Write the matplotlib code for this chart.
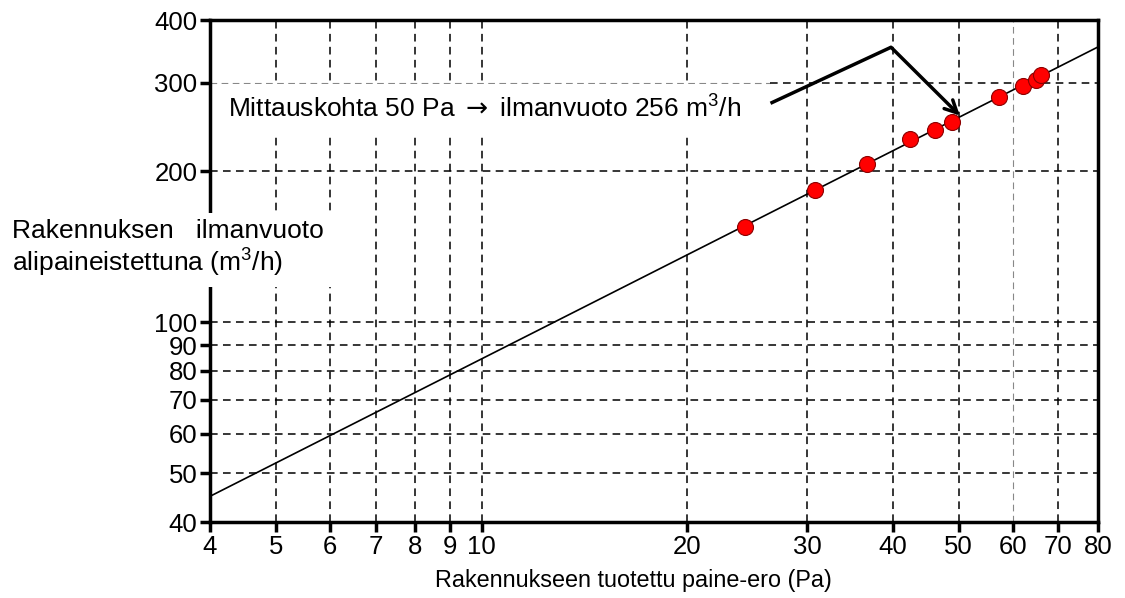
import numpy as np
import matplotlib.pyplot as plt
from matplotlib.ticker import FixedLocator, FixedFormatter, NullLocator

plt.rcParams['font.family'] = ['Liberation Sans', 'DejaVu Sans']
plt.rcParams['mathtext.fontset'] = 'custom'
plt.rcParams['mathtext.rm'] = 'Liberation Sans'
plt.rcParams['mathtext.it'] = 'Liberation Sans'
plt.rcParams['mathtext.sf'] = 'DejaVu Sans'

# measured points: pressure difference (Pa) and leakage flow (m3/h)
pressure = [24.3, 30.8, 36.7, 42.4, 46.2, 48.9, 57.2, 62.2, 64.9, 66.0]
flow = [155, 183, 207, 232, 242, 251, 281, 296, 304, 311]

x_ticks = [4, 5, 6, 7, 8, 9, 10, 20, 30, 40, 50, 60, 70, 80]
y_ticks = [40, 50, 60, 70, 80, 90, 100, 200, 300, 400]

# power-law fit  q = C * dp^n  (straight line in log-log)
p = np.polyfit(np.log10(pressure), np.log10(flow), 1)
x_fit = np.array([4, 80])
y_fit = 10 ** np.polyval(p, np.log10(x_fit))

fig = plt.figure(figsize=(11.25, 5.98), dpi=100)
ax = fig.add_axes([210 / 1125, 1 - 522 / 598, 888 / 1125, 502 / 598])
ax.set_xscale('log')
ax.set_yscale('log')
ax.set_xlim(4, 80)
ax.set_ylim(40, 400)

# dashed grid
for xv in x_ticks[1:-1]:
    if xv == 60:
        ax.axvline(xv, color='#888888', lw=0.8, dashes=(6, 4), zorder=1)
    else:
        ax.axvline(xv, color='black', lw=1.1, dashes=(5, 3.5), zorder=1)
for yv in y_ticks[1:-1]:
    if yv == 300:
        ax.plot([4, 26.5], [yv, yv], color='#888888', lw=0.8, dashes=(6, 4), zorder=1)
        ax.plot([26.5, 80], [yv, yv], color='black', lw=1.1, dashes=(5, 3.5), zorder=1)
    else:
        ax.axhline(yv, color='black', lw=1.1, dashes=(5, 3.5), zorder=1)

ax.plot(x_fit, y_fit, color='black', lw=1.2, zorder=3)
ax.plot(pressure, flow, 'o', color='#ff0000', markeredgecolor='#8b0000',
        markersize=11.5, markeredgewidth=0.8, zorder=4)

ax.xaxis.set_major_locator(FixedLocator(x_ticks))
ax.xaxis.set_major_formatter(FixedFormatter([str(v) for v in x_ticks]))
ax.xaxis.set_minor_locator(NullLocator())
ax.yaxis.set_major_locator(FixedLocator(y_ticks))
ax.yaxis.set_major_formatter(FixedFormatter([str(v) for v in y_ticks]))
ax.yaxis.set_minor_locator(NullLocator())
ax.tick_params(axis='both', direction='out', length=7, width=2.5, labelsize=18.5, pad=2)
for s in ax.spines.values():
    s.set_linewidth(2.5)

ax.set_xlabel('Rakennukseen tuotettu paine-ero (Pa)', fontsize=16.8, labelpad=3)
ax.xaxis.set_label_coords((633 - 210) / 888, -0.094)

# y label with white background over the grid
fig.text(12 / 1125, 1 - 249 / 598, 'Rakennuksen   ilmanvuoto\nalipaineistettuna (m$^3$/h)',
         fontsize=19, ha='left', va='center', linespacing=1.15,
         bbox=dict(facecolor='white', edgecolor='none', pad=6), zorder=10)

# annotation text
fig.text(228 / 1125, 1 - 109 / 598, 'Mittauskohta 50 Pa $\\mathsf{\\rightarrow}$ ilmanvuoto 256 m$^3$/h',
         fontsize=19, ha='left', va='center',
         bbox=dict(facecolor='white', edgecolor='none', pad=8), zorder=10)

ax.plot([26.5, 39.8], [273, 353], color='black', lw=2.5, solid_capstyle='butt',
        clip_on=False, zorder=5)
ax.annotate('', xy=(50.2, 258), xytext=(39.8, 353),
            arrowprops=dict(arrowstyle='->', lw=2.5, color='black',
                            shrinkA=0, shrinkB=0, mutation_scale=22), zorder=5)

fig.savefig('out.png', dpi=100)
